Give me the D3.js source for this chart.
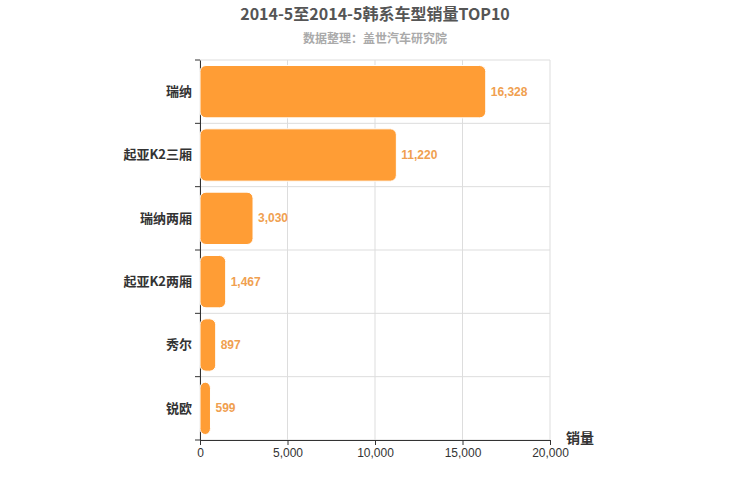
<!DOCTYPE html>
<html><head><meta charset="utf-8">
<script src="https://cdn.jsdelivr.net/npm/d3@7"></script>
<style>body{margin:0;background:#fff}text{font-family:"Noto Sans CJK SC","Noto Sans",sans-serif}</style>
</head><body><svg id="c" width="750" height="500"></svg>
<script>
const categories = ["瑞纳","起亚K2三厢","瑞纳两厢","起亚K2两厢","秀尔","锐欧"];
const values = [16328,11220,3030,1467,897,599];
const xTicks = [0,5000,10000,15000,20000];
const svg = d3.select("#c");
const L=200,R=550,T=60,B=440;
const x=d3.scaleLinear().domain([0,20000]).range([L,R]);
const y=d3.scaleBand().domain(categories).range([T,B]);
svg.append("text").attr("x",375).attr("y",20).attr("text-anchor","middle").attr("font-size",16).attr("font-weight","bold").attr("fill","#555").text("2014-5至2014-5韩系车型销量TOP10");
svg.append("text").attr("x",375).attr("y",43).attr("text-anchor","middle").attr("font-size",12).attr("font-weight","bold").attr("fill","#aaa").text("数据整理：盖世汽车研究院");
const g=svg.append("g");
xTicks.forEach(t=>g.append("line").attr("x1",x(t)).attr("x2",x(t)).attr("y1",T).attr("y2",B).attr("stroke","#ddd"));
categories.forEach((c,i)=>{g.append("line").attr("x1",L).attr("x2",R).attr("y1",y(c)).attr("y2",y(c)).attr("stroke","#ddd");});
g.append("line").attr("x1",L).attr("x2",R).attr("y1",B).attr("y2",B).attr("stroke","#ddd");
svg.append("g").attr("transform",`translate(0,${B})`).call(d3.axisBottom(x).tickValues(xTicks).tickFormat(d3.format(",")).tickSize(5))
 .call(a=>{a.selectAll("text").attr("fill","#333").attr("font-size",12).style("font-family","Liberation Sans,sans-serif");a.selectAll("line,path").attr("stroke","#333");});
svg.append("g").attr("transform",`translate(${L},0)`).call(d3.axisLeft(y).tickSize(0).tickPadding(8))
 .call(a=>{a.selectAll("text").attr("fill","#333").attr("font-size",13).attr("font-weight","bold");a.selectAll("path").attr("stroke","#333");});
[...categories.map(c=>y(c)),B].forEach(v=>svg.append("line").attr("x1",L-5).attr("x2",L).attr("y1",v).attr("y2",v).attr("stroke","#333"));
svg.selectAll("rect.b").data(values).join("rect").attr("x",L).attr("y",(d,i)=>y(categories[i])+5.5).attr("height",y.bandwidth()-11)
 .attr("width",d=>x(d)-L).attr("rx",6).attr("fill","#ff9d35").attr("stroke","#fff");
svg.selectAll("text.v").data(values).join("text").attr("x",d=>x(d)+5).attr("y",(d,i)=>y(categories[i])+y.bandwidth()/2+4)
 .attr("font-size",12).attr("font-weight","bold").attr("fill","#f0a050").style("font-family","Liberation Sans,sans-serif").text(d3.format(","));
svg.append("text").attr("x",566).attr("y",443).attr("font-size",14).attr("font-weight","bold").attr("fill","#333").text("销量");
</script></body></html>
